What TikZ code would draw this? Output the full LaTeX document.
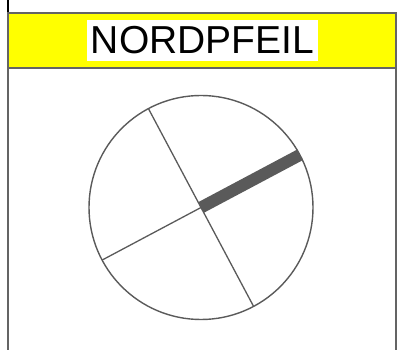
\documentclass[tikz,border=0pt]{standalone}
\usepackage{fontspec}
\setmainfont{Liberation Sans}
\usepackage{tikz}
\definecolor{nfgray}{RGB}{90,90,90}
\definecolor{nfframe}{RGB}{100,100,100}
\definecolor{nfyellow}{RGB}{255,255,0}

\begin{document}
\begin{tikzpicture}[x=1pt,y=1pt]
    \useasboundingbox (0,0) rectangle (398,350);

    % Frame
    \draw[black,line width=1.6pt] (8,350) -- (8,337);
    \draw[nfframe,line width=1.8pt] (8,337) -- (8,0);
    \draw[nfframe,line width=1.8pt] (396,337) -- (396,0);

    % Header band
    \fill[nfyellow] (8,337) rectangle (396,282);
    \draw[nfframe,line width=1.6pt] (8,337) rectangle (396,282);
    \node[fill=white,inner sep=0pt,minimum width=231,minimum height=41,
          font=\fontsize{39}{42}\selectfont] (title) at (202.5,309.5) {NORDPFEIL};

    % Compass circle
    \node[circle,draw=nfgray,line width=1.4pt,minimum size=224,inner sep=0pt,outer sep=0pt]
        (compass) at (201,142.5) {};

    % Cross lines
    \foreach \angle in {118,208,298} {
        \draw[nfgray,line width=1.3pt] (compass.center) -- (compass.\angle);
    }

    % North bar
    \draw[nfgray,line width=12pt] (compass.center) -- (compass.28);
\end{tikzpicture}
\end{document}
